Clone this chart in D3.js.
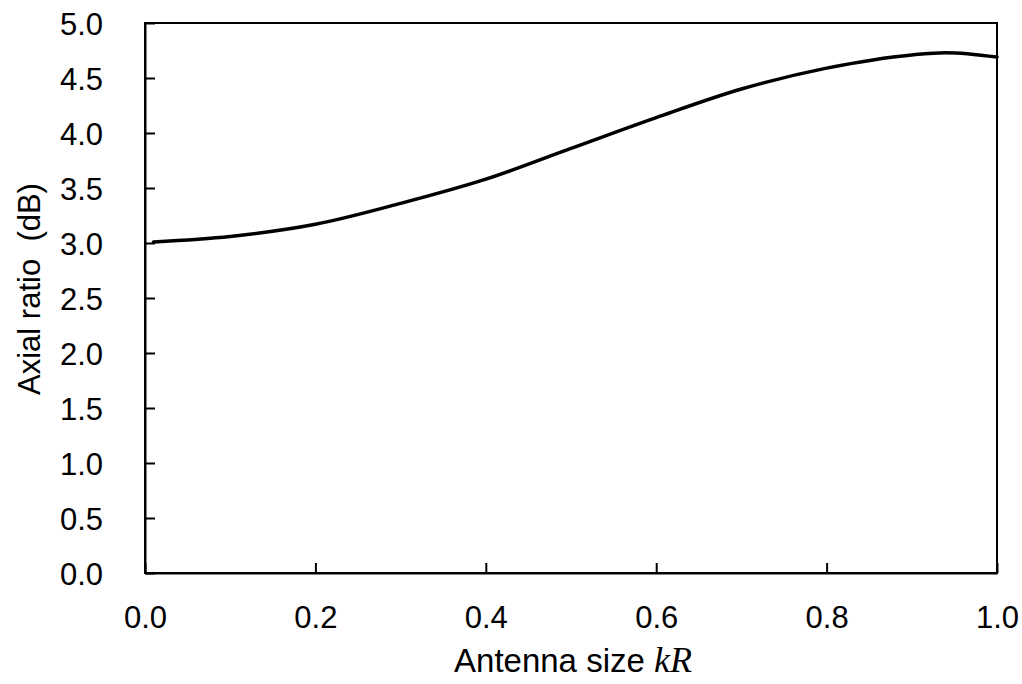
<!DOCTYPE html>
<html>
<head>
<meta charset="utf-8">
<script src="https://cdn.jsdelivr.net/npm/d3@7"></script>
<style>
  html, body { margin: 0; padding: 0; background: #fff; }
  svg { display: block; }
</style>
</head>
<body>
<svg id="chart" width="1022" height="684"></svg>
<script>
const kR = [0.01, 0.1, 0.2, 0.3, 0.4, 0.5, 0.6, 0.7, 0.8, 0.9, 0.94, 1.0];
const axialRatio = [3.01, 3.06, 3.17, 3.36, 3.58, 3.86, 4.14, 4.40, 4.59, 4.71, 4.73, 4.69];
const xTicks = [0.0, 0.2, 0.4, 0.6, 0.8, 1.0];
const yTicks = [0.0, 0.5, 1.0, 1.5, 2.0, 2.5, 3.0, 3.5, 4.0, 4.5, 5.0];

const FONT = "Liberation Sans, Arial, sans-serif";
const FS = 31;

const svg = d3.select("#chart");
const m = { left: 145, right: 997, top: 23, bottom: 573 };

const x = d3.scaleLinear().domain([0, 1]).range([m.left, m.right]);
const y = d3.scaleLinear().domain([0, 5]).range([m.bottom, m.top]);

// Frame
svg.append("rect")
  .attr("x", m.left).attr("y", m.top)
  .attr("width", m.right - m.left).attr("height", m.bottom - m.top)
  .attr("fill", "none").attr("stroke", "#000").attr("stroke-width", 2);

// X axis
const xAxis = d3.axisBottom(x).tickValues(xTicks).tickFormat(d3.format(".1f"))
  .tickSizeInner(-10).tickSizeOuter(0).tickPadding(20);
const gx = svg.append("g").attr("transform", `translate(0,${m.bottom})`).call(xAxis)
  .attr("font-size", FS).attr("font-family", FONT);
gx.select(".domain").attr("stroke-width", 2);
gx.selectAll(".tick line").attr("stroke-width", 2);
gx.selectAll(".tick text").attr("y", 55).attr("dy", 0).attr("fill", "#000");

// Y axis
const yAxis = d3.axisLeft(y).tickValues(yTicks).tickFormat(d3.format(".1f"))
  .tickSizeInner(-10).tickSizeOuter(0).tickPadding(42);
const gy = svg.append("g").attr("transform", `translate(${m.left},0)`).call(yAxis)
  .attr("font-size", FS).attr("font-family", FONT);
gy.select(".domain").attr("stroke-width", 2);
gy.selectAll(".tick line").attr("stroke-width", 2);
gy.selectAll(".tick text").attr("dy", "0.36em").attr("fill", "#000");

// Curve
const line = d3.line().x((d, i) => x(kR[i])).y(d => y(d)).curve(d3.curveMonotoneX);
svg.append("path")
  .datum(axialRatio)
  .attr("d", line)
  .attr("fill", "none").attr("stroke", "#000").attr("stroke-width", 3.5)
  .attr("stroke-linecap", "round");

// X title
const xt = svg.append("text")
  .attr("x", 573).attr("y", 672)
  .attr("text-anchor", "middle").attr("font-size", 33).attr("font-family", FONT);
xt.append("tspan").text("Antenna size ");
xt.append("tspan").attr("font-family", "Liberation Serif, Times New Roman, serif")
  .attr("font-style", "italic").attr("font-size", 36).text("kR");

// Y title
svg.append("text")
  .attr("transform", `translate(40,289) rotate(-90)`)
  .attr("text-anchor", "middle").attr("font-size", FS).attr("font-family", FONT)
  .attr("xml:space", "preserve")
  .style("white-space", "pre")
  .text("Axial ratio  (dB)");
</script>
</body>
</html>
